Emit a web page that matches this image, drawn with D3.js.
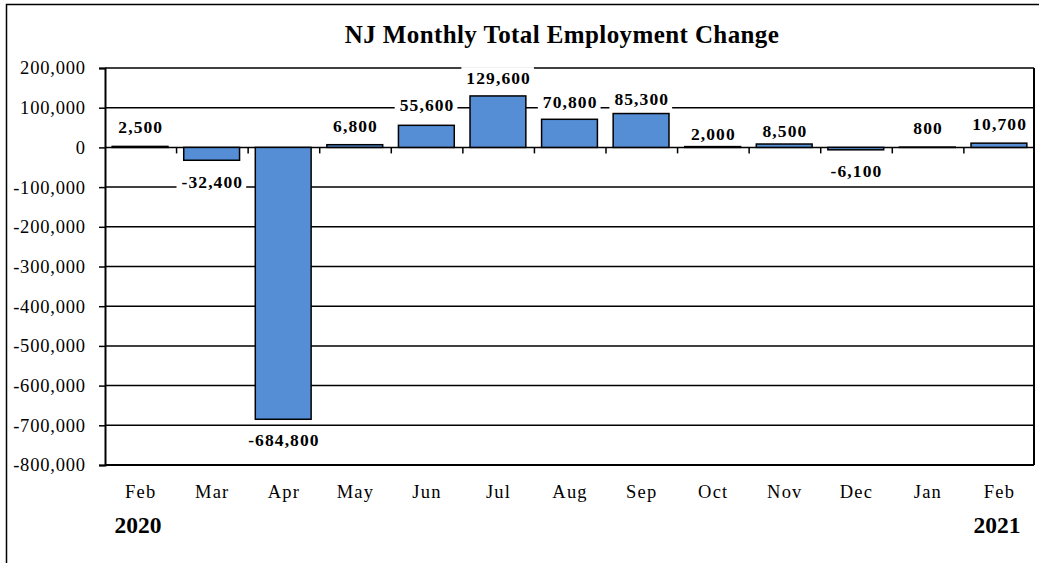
<!DOCTYPE html>
<html>
<head>
<meta charset="utf-8">
<script src="https://cdn.jsdelivr.net/npm/d3@7"></script>
<style>
  body { margin: 0; background: #fff; }
  svg { display: block; font-family: "Liberation Serif", "Times New Roman", serif; }
</style>
</head>
<body>
<div id="chart"></div>
<script>
const months = ["Feb", "Mar", "Apr", "May", "Jun", "Jul", "Aug", "Sep", "Oct", "Nov", "Dec", "Jan", "Feb"];
const changes = [2500, -32400, -684800, 6800, 55600, 129600, 70800, 85300, 2000, 8500, -6100, 800, 10700];
const yearLabels = [{ idx: 0, text: "2020" }, { idx: 12, text: "2021" }];
const yTicks = [200000, 100000, 0, -100000, -200000, -300000, -400000, -500000, -600000, -700000, -800000];

// label gap from bar end (px), as placed in the original
const labelGap = [20, 21.5, 21, 18.5, 20.5, 18, 17.5, 14.5, 13, 13.5, 21, 19, 19];

const width = 1039, height = 563;
const plot = { left: 105, right: 1034, top: 68, bottom: 465 };

const svg = d3.select("#chart").append("svg")
  .attr("width", width)
  .attr("height", height);

// outer frame (cropped at right/bottom)
svg.append("rect")
  .attr("x", 6.5).attr("y", 4.5)
  .attr("width", width + 10).attr("height", height + 10)
  .attr("fill", "none").attr("stroke", "#000").attr("stroke-width", 1.5);

const data = months.map((m, i) => ({ key: i, month: m, value: changes[i], gap: labelGap[i] }));

const x = d3.scaleBand()
  .domain(data.map(d => d.key))
  .range([plot.left, plot.right])
  .paddingInner(0.22)
  .paddingOuter(0.1);

const y = d3.scaleLinear()
  .domain([-800000, 200000])
  .range([plot.bottom, plot.top]);

const fmt = d3.formatLocale({ decimal: ".", thousands: ",", grouping: [3], currency: ["$", ""], minus: "-" }).format(",");

// title
svg.append("text")
  .attr("x", 562).attr("y", 43)
  .attr("text-anchor", "middle")
  .style("font-size", "25px").style("font-weight", "bold")
  .style("letter-spacing", "0.4px")
  .text("NJ Monthly Total Employment Change");

// gridlines
svg.append("g")
  .selectAll("line")
  .data(yTicks)
  .join("line")
  .attr("x1", plot.left).attr("x2", plot.right)
  .attr("y1", d => y(d)).attr("y2", d => y(d))
  .attr("stroke", "#000").attr("stroke-width", 1.5);

// y axis
const yAxis = svg.append("g")
  .attr("transform", `translate(${plot.left},0)`)
  .call(d3.axisLeft(y).tickValues(yTicks).tickFormat(fmt).tickSize(6).tickPadding(14));
yAxis.select(".domain").attr("stroke-width", 2);
yAxis.selectAll(".tick line").attr("stroke-width", 1.5);
yAxis.selectAll("text")
  .style("font-size", "18.5px").style("font-family", "Liberation Serif")
  .style("letter-spacing", "0.8px")
  .attr("dx", 0.8)
  .attr("fill", "#000");

// right and bottom border
svg.append("line")
  .attr("x1", plot.right).attr("x2", plot.right)
  .attr("y1", plot.top).attr("y2", plot.bottom)
  .attr("stroke", "#000").attr("stroke-width", 2);
svg.append("line")
  .attr("x1", plot.left).attr("x2", plot.right)
  .attr("y1", plot.bottom).attr("y2", plot.bottom)
  .attr("stroke", "#000").attr("stroke-width", 2);

// category ticks on zero line
const step = x.step();
const tickXs = d3.range(1, months.length).map(k => plot.left + step * k);
svg.append("g")
  .selectAll("line")
  .data(tickXs)
  .join("line")
  .attr("x1", d => d).attr("x2", d => d)
  .attr("y1", y(0)).attr("y2", y(0) + 6)
  .attr("stroke", "#000").attr("stroke-width", 1.5);

// bars
svg.append("g")
  .selectAll("rect")
  .data(data)
  .join("rect")
  .attr("x", d => x(d.key))
  .attr("width", x.bandwidth())
  .attr("y", d => y(Math.max(0, d.value)))
  .attr("height", d => Math.abs(y(d.value) - y(0)))
  .attr("fill", "#558ed5")
  .attr("stroke", "#000")
  .attr("stroke-width", 1.5);

// value labels with white boxes
const labels = svg.append("g")
  .selectAll("g")
  .data(data)
  .join("g")
  .attr("transform", d => {
    const cx = x(d.key) + x.bandwidth() / 2;
    const cy = d.value >= 0 ? y(d.value) - d.gap : y(d.value) + d.gap;
    return `translate(${cx},${cy})`;
  });

labels.append("text")
  .attr("text-anchor", "middle")
  .attr("dy", "0.35em")
  .attr("dx", 0.7)
  .style("font-size", "17.5px").style("font-weight", "bold")
  .style("letter-spacing", "1.1px")
  .text(d => fmt(d.value))
  .each(function () {
    const bb = this.getBBox();
    d3.select(this.parentNode).insert("rect", "text")
      .attr("x", bb.x - 5).attr("y", bb.y - 1)
      .attr("width", bb.width + 8).attr("height", bb.height + 2)
      .attr("fill", "#fff");
  });

// month labels
svg.append("g")
  .selectAll("text")
  .data(data)
  .join("text")
  .attr("x", d => x(d.key) + x.bandwidth() / 2 + 0.6)
  .attr("y", 498)
  .attr("text-anchor", "middle")
  .style("font-size", "18.5px")
  .style("letter-spacing", "1.2px")
  .text(d => d.month);

// year labels
svg.append("g")
  .selectAll("text")
  .data(yearLabels)
  .join("text")
  .attr("x", d => x(d.idx) + x.bandwidth() / 2 - 2)
  .attr("y", 533)
  .attr("text-anchor", "middle")
  .style("font-size", "23.5px").style("font-weight", "bold")
  .text(d => d.text);
</script>
</body>
</html>
